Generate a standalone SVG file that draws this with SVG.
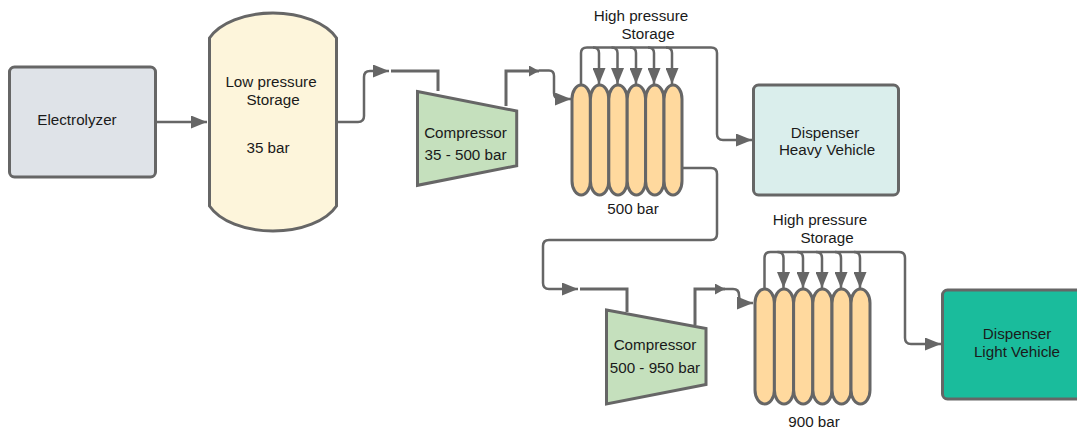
<svg xmlns="http://www.w3.org/2000/svg" width="1077" height="430" viewBox="0 0 1077 430">
<style>
.s{stroke:#666;stroke-width:3}
.c{fill:#ffd99e;stroke:#666;stroke-width:3}
.l{fill:none;stroke:#666;stroke-width:2.500}
.t{fill:none;stroke:#666;stroke-width:3}
text{font-family:"Liberation Sans",Arial,sans-serif;font-size:15.200px;fill:#1a1a1a;text-anchor:middle}
</style>
<defs>
<marker id="a" viewBox="0 0 16 13" refX="16" refY="6.500" markerUnits="userSpaceOnUse" markerWidth="16" markerHeight="13" orient="auto"><path d="M0 0L16 6.500L0 13Z" fill="#666"/></marker>
<marker id="b" viewBox="0 0 10 11" refX="10" refY="5.500" markerUnits="userSpaceOnUse" markerWidth="10" markerHeight="11" orient="auto"><path d="M0 0L10 5.500L0 11Z" fill="#666"/></marker>
</defs>
<g id="electrolyzer"><rect class="s" x="9.500" y="67" width="146" height="110" rx="5" fill="#dfe3e8"/><text x="77" y="125">Electrolyzer</text></g>
<g id="low-pressure-storage"><path class="s" d="M209.500 38A68 39 0 0 1 336.500 38V206A68 39 0 0 1 209.500 206Z" fill="#fdf5db"/><text x="271" y="87">Low pressure</text><text x="273" y="105">Storage</text><text x="268" y="153">35 bar</text></g>
<g id="compressor-1"><path class="s" d="M417.500 91.500L516.700 111V165.700L417.500 185.300Z" fill="#c5e0bd"/><text x="465.500" y="138">Compressor</text><text x="465.500" y="160">35 - 500 bar</text></g>
<g id="hp-storage-1">
<rect class="c" x="572" y="85" width="18.400" height="110" rx="9.200" ry="14"/><rect class="c" x="590.400" y="85" width="18.400" height="110" rx="9.200" ry="14"/><rect class="c" x="608.800" y="85" width="18.400" height="110" rx="9.200" ry="14"/><rect class="c" x="627.200" y="85" width="18.400" height="110" rx="9.200" ry="14"/><rect class="c" x="645.600" y="85" width="18.400" height="110" rx="9.200" ry="14"/><rect class="c" x="664" y="85" width="18" height="110" rx="9" ry="14"/>
<text x="641" y="21">High pressure</text><text x="648" y="38.500">Storage</text><text x="633" y="214">500 bar</text></g>
<g id="dispenser-heavy"><rect class="s" x="753.500" y="85" width="145" height="110" rx="5" fill="#daeeec"/><text x="825" y="138">Dispenser</text><text x="827" y="155">Heavy Vehicle</text></g>
<g id="compressor-2"><path class="s" d="M606.500 310L706 328.500V384.500L606.500 404Z" fill="#c5e0bd"/><text x="655" y="350">Compressor</text><text x="655" y="373">500 - 950 bar</text></g>
<g id="hp-storage-2">
<rect class="c" x="755" y="289" width="19.400" height="115" rx="9.700" ry="14"/><rect class="c" x="774.400" y="289" width="19.200" height="115" rx="9.600" ry="14"/><rect class="c" x="793.600" y="289" width="19.200" height="115" rx="9.600" ry="14"/><rect class="c" x="812.800" y="289" width="19.200" height="115" rx="9.600" ry="14"/><rect class="c" x="832" y="289" width="19" height="115" rx="9.500" ry="14"/><rect class="c" x="851" y="289" width="19" height="115" rx="9.500" ry="14"/>
<text x="820" y="225">High pressure</text><text x="827" y="243">Storage</text><text x="814" y="427">900 bar</text></g>
<g id="dispenser-light"><rect class="s" x="942.500" y="290" width="140" height="109" rx="5" fill="#1abc9c"/><text x="1017" y="339">Dispenser</text><text x="1017" y="357">Light Vehicle</text></g>
<g id="connectors">
<path class="l" d="M156 122H207" marker-end="url(#a)"/>
<path class="l" d="M338 122H358Q364 122 364 116V77Q364 71 370 71H389" marker-end="url(#a)"/>
<path class="t" d="M391 71H438V91"/>
<path class="t" d="M506 106V71H539" marker-end="url(#b)"/>
<path class="l" d="M539 70.500H549Q554 70.500 554 76V93Q554 99 560 99H571" marker-end="url(#a)"/>
<path class="l" d="M581 84V53Q581 47.500 587 47.500H711Q717 47.500 717 53V134Q717 140 723 140H752" marker-end="url(#a)"/>
<path class="l" d="M593 47.500Q599 47.500 599 53V84" marker-end="url(#a)"/>
<path class="l" d="M611.500 47.500Q617.500 47.500 617.500 53V84" marker-end="url(#a)"/>
<path class="l" d="M630 47.500Q636 47.500 636 53V84" marker-end="url(#a)"/>
<path class="l" d="M648 47.500Q654 47.500 654 53V84" marker-end="url(#a)"/>
<path class="l" d="M666 47.500Q672 47.500 672 53V84" marker-end="url(#a)"/>
<path class="l" d="M682 168H711Q717 168 717 174V234Q717 240 711 240H549Q543 240 543 246V283Q543 289 549 289H578" marker-end="url(#a)"/>
<path class="t" d="M580 289H627V312"/>
<path class="t" d="M695 325V289H725" marker-end="url(#b)"/>
<path class="l" d="M725 289H733Q739 289 739 295Q739 303 745 303H753" marker-end="url(#a)"/>
<path class="l" d="M764.500 288V258Q764.500 252 770.500 252H899Q905 252 905 258V338Q905 344 911 344H941" marker-end="url(#a)"/>
<path class="l" d="M777.500 252Q783.500 252 783.500 258V288" marker-end="url(#a)"/>
<path class="l" d="M797 252Q803 252 803 258V288" marker-end="url(#a)"/>
<path class="l" d="M816 252Q822 252 822 258V288" marker-end="url(#a)"/>
<path class="l" d="M835 252Q841 252 841 258V288" marker-end="url(#a)"/>
<path class="l" d="M854 252Q860 252 860 258V288" marker-end="url(#a)"/>
</g>
</svg>
